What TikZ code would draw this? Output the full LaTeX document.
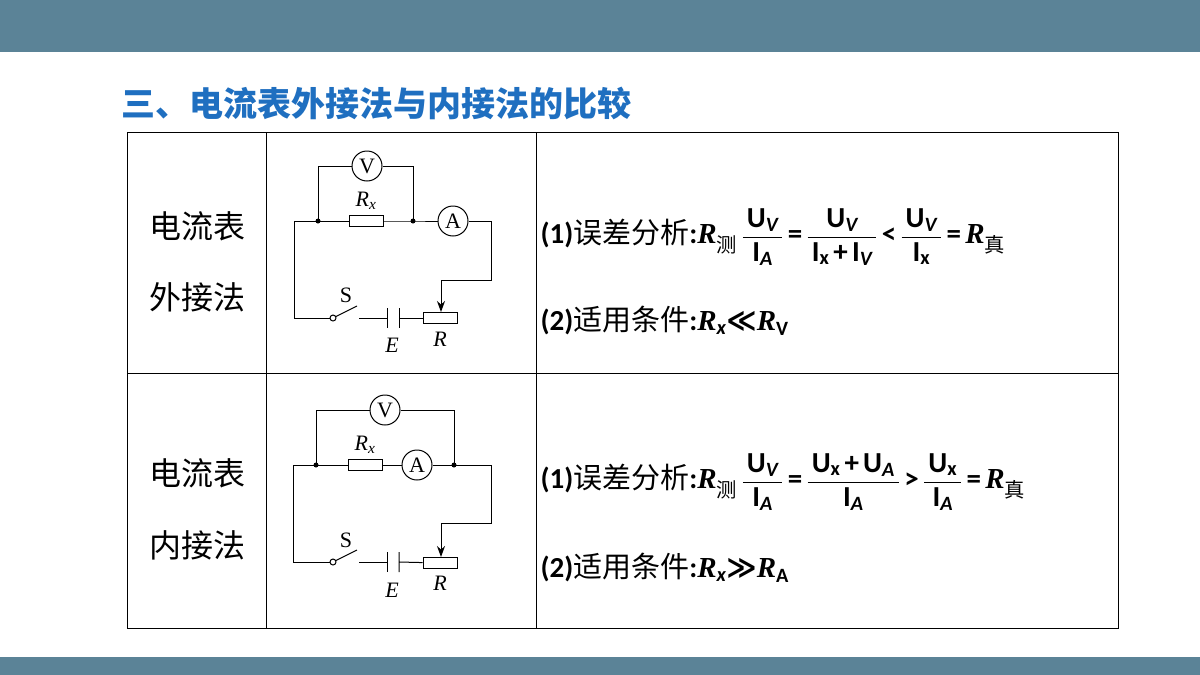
\documentclass[tikz,border=0pt]{standalone}
\usepackage{amsmath}
\usepackage{fontspec}
\setmainfont{Carlito}
\newfontfamily\cjk{Noto Sans CJK SC}
\newfontfamily\tms{Liberation Serif}
\newfontfamily\djv{DejaVu Sans}
\usetikzlibrary{arrows.meta}
\definecolor{bandblue}{HTML}{5B8397}
\definecolor{titleblue}{HTML}{1F6FC0}
\newcommand{\bR}{\text{\tms\bfseries\itshape R}}
\newcommand{\cU}{\text{\bfseries U}}
\newcommand{\cI}{\text{\bfseries I}}
\newcommand{\sub}[1]{_{\text{\bfseries #1}}}
\newcommand{\csub}[1]{_{\text{\cjk #1}}}
\newcommand{\rel}[1]{\,\text{\bfseries #1}\,}
\tikzset{
  meter/.style={draw,circle,minimum size=30pt,inner sep=0pt,font=\fontsize{22}{22}\tms},
  resbox/.style={draw,fill=white,rectangle,minimum width=34pt,minimum height=11pt,inner sep=0pt},
  lbl/.style={font=\fontsize{22}{22}\tms},
  dot/.style={circle,fill,inner sep=0pt,minimum size=5pt},
  slider/.style={-{Stealth[length=11pt,width=8pt]}},
  cell/.style={font=\fontsize{32}{32}\cjk},
  formula/.style={anchor=west,font=\fontsize{29}{29}\selectfont,inner sep=0pt}
}
\begin{document}
\begin{tikzpicture}[x=1pt,y=-1pt,line width=1pt]
\useasboundingbox (0,0) rectangle (1200,675);
\fill[bandblue] (0,0) rectangle (1200,52);
\fill[bandblue] (0,657) rectangle (1200,675);
\node[anchor=west,text=titleblue,font=\fontsize{34}{34}\cjk\bfseries,inner sep=0pt] (title) at (121,103) {三、电流表外接法与内接法的比较};
% table
\draw (127,132) rectangle (1118,628);
\draw (266,132) -- (266,628) (536,132) -- (536,628) (127,373) -- (1118,373);
\node[cell] (c1a) at (197,226) {电流表};
\node[cell] (c1b) at (197,297) {外接法};
\node[cell] (c2a) at (197,473) {电流表};
\node[cell] (c2b) at (197,545) {内接法};
% circuit 1: external
\node[meter] (v1) at (367,166) {V};
\node[resbox] (rx1) at (366,221) {};
\node[lbl] (rxl1) at (366,201) {\textit{R}\textsubscript{\textit{x}}};
\node[meter] (a1) at (453,221) {A};
\coordinate (j1l) at (318,221);
\coordinate (j1r) at (413,221);
\node[dot] at (j1l) {};
\node[dot] at (j1r) {};
\draw (v1) -| (j1l) (v1) -| (j1r);
\draw (j1l) -- (rx1) (rx1) -- (j1r) -- (a1);
\node[resbox] (rh1) at (440,318) {};
\node[lbl] (rl1) at (440,339) {\textit{R}};
\draw[slider] (a1) -- (491,221) -- (491,280) -- (441,280) -- (rh1.north-|441,0);
\coordinate (s1) at (333,318);
\draw (rh1) -- (399,318) (399,308) -- (399,328);
\draw (387,308) -- (387,328) (387,318) -- (359,318);
\draw (357,306) -- (s1);
\draw (s1) -- (294,318) -- (294,221) -- (j1l);
\draw[fill=white] (s1) circle (3pt);
\node[lbl] (sl1) at (346,295) {S};
\node[lbl] (el1) at (392,345) {\textit{E}};
% circuit 2: internal
\node[meter] (v2) at (385,410) {V};
\node[resbox] (rx2) at (365,465) {};
\node[lbl] (rxl2) at (365,445) {\textit{R}\textsubscript{\textit{x}}};
\node[meter] (a2) at (417,465) {A};
\coordinate (j2l) at (316,465);
\coordinate (j2r) at (454,465);
\node[dot] at (j2l) {};
\node[dot] at (j2r) {};
\draw (v2) -| (j2l) (v2) -| (j2r);
\draw (j2l) -- (rx2) (rx2) -- (a2) (a2) -- (j2r);
\node[resbox] (rh2) at (440,563) {};
\node[lbl] (rl2) at (440,583) {\textit{R}};
\draw[slider] (j2r) -- (491,465) -- (491,523) -- (441,523) -- (rh2.north-|441,0);
\coordinate (s2) at (333,562);
\draw (rh2) -- (399,562) (399,552) -- (399,572);
\draw (387,552) -- (387,572) (387,562) -- (359,562);
\draw (357,550) -- (s2);
\draw (s2) -- (293,562) -- (293,465) -- (j2l);
\draw[fill=white] (s2) circle (3pt);
\node[lbl] (sl2) at (346,540) {S};
\node[lbl] (el2) at (392,590) {\textit{E}};
% formulas
\node[formula] (f1) at (540,237) {\textbf{(1)}{\cjk 误差分析}\textbf{:}$\bR\csub{测}\,\dfrac{\,\cU\sub{\itshape V}\,}{\cI\sub{\itshape A}}\rel{=}\dfrac{\cU\sub{\itshape V}}{\,\cI\sub{x}\,\textbf{+}\,\cI\sub{\itshape V}\,}\rel{<}\dfrac{\,\cU\sub{\itshape V}\,}{\cI\sub{x}}\rel{=}\bR\csub{真}$};
\node[formula] (f2) at (540,321) {\textbf{(2)}{\cjk 适用条件}\textbf{:}$\bR\sub{\itshape x}\text{\djv\bfseries≪}\bR\sub{V}$};
\node[formula] (f3) at (540,482) {\textbf{(1)}{\cjk 误差分析}\textbf{:}$\bR\csub{测}\,\dfrac{\,\cU\sub{\itshape V}\,}{\cI\sub{\itshape A}}\rel{=}\dfrac{\,\cU\sub{x}\,\textbf{+}\,\cU\sub{\itshape A}\,}{\cI\sub{\itshape A}}\rel{>}\dfrac{\,\cU\sub{x}\,}{\cI\sub{\itshape A}}\rel{=}\bR\csub{真}$};
\node[formula] (f4) at (540,568) {\textbf{(2)}{\cjk 适用条件}\textbf{:}$\bR\sub{\itshape x}\text{\djv\bfseries≫}\bR\sub{A}$};
\end{tikzpicture}
\end{document}
